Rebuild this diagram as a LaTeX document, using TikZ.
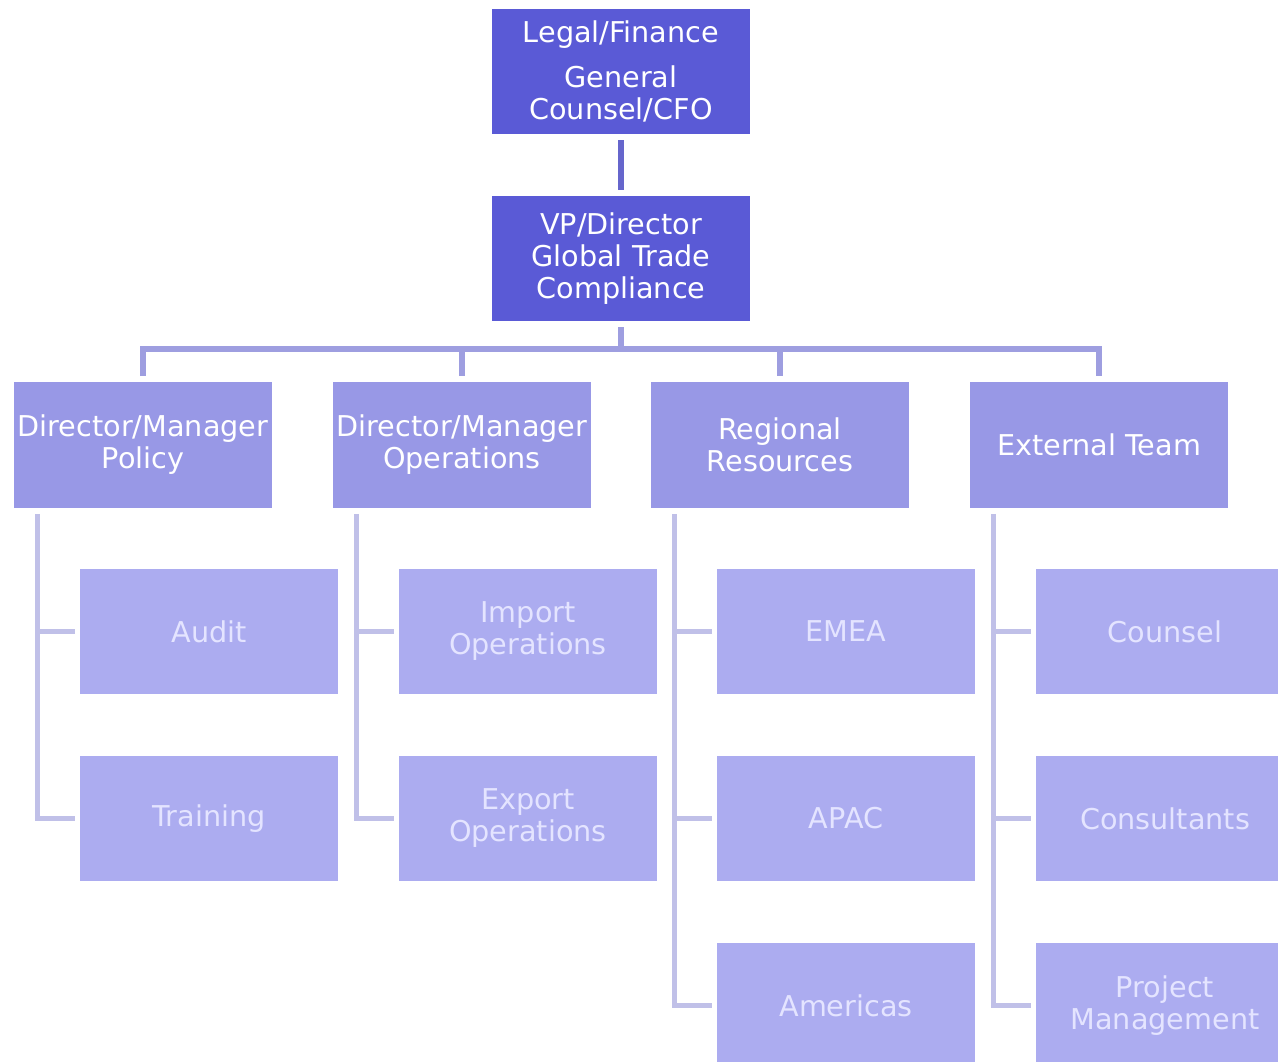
\documentclass[tikz,border=0pt]{standalone}
\usepackage{fontspec}
\setmainfont{DejaVu Sans}
\usepackage{tikz}

\begin{document}
\begin{tikzpicture}[x=0.75pt,y=0.75pt,yscale=-1,xscale=1,
    topbox/.style={fill={rgb, 255:red, 90; green, 90; blue, 214}, text=white, minimum width=193.5pt, minimum height=94pt, inner sep=0pt, align=center, font=\fontsize{21.5}{24}\selectfont},
    midbox/.style={topbox, fill={rgb, 255:red, 152; green, 152; blue, 230}},
    lowbox/.style={topbox, fill={rgb, 255:red, 172; green, 172; blue, 240}, text={rgb, 255:red, 228; green, 228; blue, 255}},
    stem/.style={draw={rgb, 255:red, 102; green, 102; blue, 204}, line width=4.5pt},
    bus/.style={draw={rgb, 255:red, 158; green, 158; blue, 224}, line width=4pt},
    branch/.style={draw={rgb, 255:red, 192; green, 192; blue, 232}, line width=4pt}]
    \useasboundingbox (0,0) rectangle (1278,1062);
    \clip (0,0) rectangle (1278,1062);

    % Top levels
    \node [topbox] (cfo) at (621,71.5) {Legal/Finance\\[10pt]General\\Counsel/CFO};
    \node [topbox] (vp) at (621,258.5) {VP/Director\\Global Trade\\Compliance};
    \coordinate (bus) at (621,349);

    % Second level
    \node [midbox] (pol) at (143,445) {Director/Manager\\Policy};
    \node [midbox] (ops) at (462,445) {Director/Manager\\Operations};
    \node [midbox] (reg) at (780,445) {Regional\\Resources};
    \node [midbox] (ext) at (1099,445) {External Team};

    % Third level
    \node [lowbox] (aud) at (209,631.5) {Audit};
    \node [lowbox] (trn) at (209,818.5) {Training};
    \node [lowbox] (imp) at (528,631.5) {Import\\Operations};
    \node [lowbox] (exp) at (528,818.5) {Export\\Operations};
    \node [lowbox] (emea) at (846,631.5) {EMEA};
    \node [lowbox] (apac) at (846,818.5) {APAC};
    \node [lowbox] (amer) at (846,1005.5) {Americas};
    \node [lowbox] (cns) at (1165,631.5) {Counsel};
    \node [lowbox] (cons) at (1165,818.5) {Consultants};
    \node [lowbox] (pm) at (1165,1005.5) {Project\\Management};

    % Stem and bus
    \draw [stem] ([yshift=4.5pt]cfo.south) -- ([yshift=-4.5pt]vp.north);
    \draw [bus] ([yshift=4.5pt]vp.south) -- (bus);
    \draw [bus] ([yshift=-4.5pt]pol.north) |- (bus) -| ([yshift=-4.5pt]ext.north);
    \draw [bus] (bus -| ops.north) -- ([yshift=-4.5pt]ops.north);
    \draw [bus] (bus -| reg.north) -- ([yshift=-4.5pt]reg.north);

    % Branches
    \draw [branch] ([xshift=18pt,yshift=4.5pt]pol.south west) |- ([xshift=-3.75pt]trn.west);
    \draw [branch] ([xshift=18pt]pol.south west |- aud.west) -- ([xshift=-3.75pt]aud.west);
    \draw [branch] ([xshift=18pt,yshift=4.5pt]ops.south west) |- ([xshift=-3.75pt]exp.west);
    \draw [branch] ([xshift=18pt]ops.south west |- imp.west) -- ([xshift=-3.75pt]imp.west);
    \draw [branch] ([xshift=18pt,yshift=4.5pt]reg.south west) |- ([xshift=-3.75pt]amer.west);
    \draw [branch] ([xshift=18pt]reg.south west |- emea.west) -- ([xshift=-3.75pt]emea.west);
    \draw [branch] ([xshift=18pt]reg.south west |- apac.west) -- ([xshift=-3.75pt]apac.west);
    \draw [branch] ([xshift=18pt,yshift=4.5pt]ext.south west) |- ([xshift=-3.75pt]pm.west);
    \draw [branch] ([xshift=18pt]ext.south west |- cns.west) -- ([xshift=-3.75pt]cns.west);
    \draw [branch] ([xshift=18pt]ext.south west |- cons.west) -- ([xshift=-3.75pt]cons.west);

\end{tikzpicture}
\end{document}
